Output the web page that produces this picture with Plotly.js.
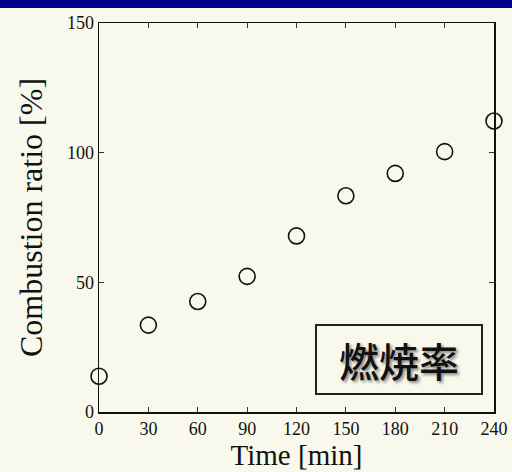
<!DOCTYPE html>
<html>
<head>
<meta charset="utf-8">
<script src="https://cdn.plot.ly/plotly-3.0.1.min.js"></script>
<style>html,body{margin:0;padding:0;background:#F8F8EC;}#chart{width:512px;height:472px;}</style>
</head>
<body>
<div id="chart"></div>
<script>
const timeMin = [0, 30, 60, 90, 120, 150, 180, 210, 240];
const combustionRatio = [13.8, 33.5, 42.6, 52.3, 67.9, 83.4, 92.0, 100.4, 112.2];
const xTicks = [0, 30, 60, 90, 120, 150, 180, 210, 240];
const yTicks = [0, 50, 100, 150];
const labelText = "燃焼率";

const serif = "Liberation Serif, Times New Roman, serif";
const trace = {
  x: timeMin,
  y: combustionRatio,
  type: "scatter",
  mode: "markers",
  cliponaxis: false,
  marker: {symbol: "circle-open", size: 16, color: "#111", line: {width: 1.6, color: "#111"}},
  hoverinfo: "skip"
};
const axisCommon = {
  showline: true, linecolor: "#111", linewidth: 1.5, mirror: "ticks",
  ticks: "inside", ticklen: 5, tickwidth: 1, tickcolor: "#333",
  showgrid: false, zeroline: false,
  tickfont: {family: serif, size: 18, color: "#111"}
};
const layout = {
  width: 512, height: 472,
  margin: {l: 99, r: 18, t: 23, b: 60},
  paper_bgcolor: "#F8F8EC",
  plot_bgcolor: "#F8F8EC",
  showlegend: false,
  xaxis: Object.assign({}, axisCommon, {
    range: [0, 240], tickmode: "array", tickvals: xTicks, ticktext: xTicks.map(String),
    title: {text: "Time [min]", font: {family: serif, size: 29, color: "#111"}, standoff: 3}
  }),
  yaxis: Object.assign({}, axisCommon, {
    range: [0, 150], tickmode: "array", tickvals: yTicks, ticktext: yTicks.map(String),
    title: {text: "Combustion ratio [%]", font: {family: serif, size: 32, color: "#111"}, standoff: 14}
  }),
  shapes: [
    {type: "rect", xref: "paper", yref: "paper", x0: -0.3, x1: 1.1, y0: 1.0386, y1: 1.07,
     fillcolor: "#00008C", line: {width: 0}, layer: "above"}
  ],
  annotations: [
    {xref: "paper", yref: "paper", x: 0.759, y: 0.135, xanchor: "center", yanchor: "middle",
     text: labelText, showarrow: false, width: 164, height: 67,
     bordercolor: "#222", borderwidth: 2, borderpad: 0, bgcolor: "rgba(0,0,0,0)",
     font: {family: "Noto Sans CJK JP", size: 40, color: "#111", weight: 500,
            shadow: "2px 2px 3px rgba(0,0,0,0.45)"}}
  ]
};
Plotly.newPlot("chart", [trace], layout, {displayModeBar: false, staticPlot: true});
</script>
</body>
</html>
